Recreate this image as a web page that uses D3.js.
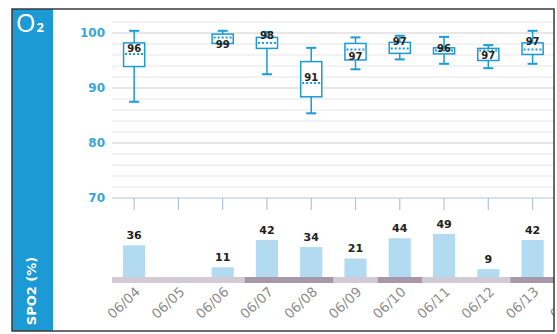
<!DOCTYPE html>
<html>
<head>
<meta charset="utf-8">
<script src="https://cdn.jsdelivr.net/npm/d3@7"></script>
<style>
  html, body { margin: 0; padding: 0; background: #fff; }
  svg { display: block; }
</style>
</head>
<body>
<svg id="chart" width="557" height="334"></svg>
<script>
// ---------- DATA ----------
const categories = ["06/04","06/05","06/06","06/07","06/08","06/09","06/10","06/11","06/12","06/13","06/14"];
const dayType    = ["light","light","light","dark","dark","light","dark","light","light","dark","dark"];
const whiskerHigh = [100.4, null, 100.4, 100.2, 97.3, 99.2, 99.5, 99.3, 97.8, 100.4, null];
const q3Values    = [98.2,  null, 99.8,  99.2,  94.8, 98.1, 98.3, 97.3, 97.2, 98.2,  null];
const medianValues= [96.2,  null, 99.2,  98.2,  90.9, 97.0, 97.2, 96.8, 96.8, 97.0,  null];
const q1Values    = [93.9,  null, 98.1,  97.2,  88.4, 95.1, 96.3, 96.2, 95.0, 96.1,  null];
const whiskerLow  = [87.5,  null, 98.1,  92.5,  85.4, 93.4, 95.2, 94.4, 93.6, 94.4,  null];
const boxLabels   = [96,    null, 99,    98,    91,   97,   97,   96,   97,   97,    null];
const meanValues  = [97.2,  null, 98.0,  99.6,  91.9, 95.8, 98.4, 97.2, 96.0, 98.4,  null];
const countValues = [36,    null, 11,    42,    34,   21,   44,   49,   9,    42,    null];
const yTicks = [70, 80, 90, 100];
const gridValues = [72,74,76,78,80,82,84,86,88,90,92,94,96,98,100,102];

// ---------- LAYOUT ----------
const svg = d3.select("#chart");
const frame = {x: 12, y: 9, w: 542, h: 322};
const blue = "#1b9ad6";

svg.append("defs").append("clipPath").attr("id","clip")
  .append("rect").attr("x", frame.x).attr("y", frame.y).attr("width", frame.w).attr("height", frame.h);

const x = d3.scaleBand().domain(categories).range([112, 599]).paddingInner(0.5).paddingOuter(0.25);
const step = x.step();
const cx = d => x(d) + x.bandwidth()/2;
const y = d3.scaleLinear().domain([70, 102]).range([198, 22]);
const yBar = d3.scaleLinear().domain([0, 50]).range([277, 233]);

const g = svg.append("g").attr("clip-path","url(#clip)");

// sidebar
g.append("rect").attr("x", frame.x).attr("y", frame.y).attr("width", 41).attr("height", frame.h).attr("fill", blue);
const o2 = svg.append("text").attr("x", 16).attr("y", 32).attr("fill","#fff")
  .attr("font-family","'Open Sans', 'DejaVu Sans', sans-serif").attr("font-size", 25);
o2.append("tspan").text("O");
o2.append("tspan").attr("font-size", 13).attr("font-weight","bold").attr("dx", 1).text("2");
svg.append("text").attr("transform","translate(36,291) rotate(-90)")
  .attr("text-anchor","middle").attr("fill","#fff")
  .attr("font-family","'DejaVu Sans', sans-serif").attr("font-weight","bold").attr("font-size", 13)
  .text("SPO2 (%)");

// gridlines
g.selectAll("line.grid").data(gridValues).enter().append("line")
  .attr("x1", 112).attr("x2", 600)
  .attr("y1", d => y(d)).attr("y2", d => y(d))
  .attr("stroke", d => d % 10 === 0 ? "#cfcfcf" : "#e6e6e6").attr("stroke-width", 1);

// y axis labels
svg.selectAll("text.ytick").data(yTicks).enter().append("text")
  .attr("x", 105).attr("y", d => y(d)).attr("dy","0.35em").attr("text-anchor","end")
  .attr("fill","#3ba3db").attr("font-family","'DejaVu Sans', sans-serif")
  .attr("font-weight","bold").attr("font-size", 12).text(d => d);

// x axis
const xAxis = d3.axisBottom(x).tickSize(12).tickFormat("");
const ax = g.append("g").attr("transform", `translate(0,${y(70)})`).call(xAxis);
ax.select(".domain").attr("stroke","#b3c3d8").attr("d", `M112,0H600`);
ax.selectAll(".tick line").attr("stroke","#b3c3d8").attr("stroke-width", 1.2);

// strip
g.selectAll("rect.strip").data(categories).enter().append("rect")
  .attr("x", d => cx(d) - step/2).attr("width", step + 0.5)
  .attr("y", 277).attr("height", 6)
  .attr("fill", (d,i) => dayType[i] === "dark" ? "#a698a9" : "#d2cad5");

// bars
const barData = categories.map((c,i) => ({c, v: countValues[i]})).filter(d => d.v != null);
g.selectAll("rect.bar").data(barData).enter().append("rect")
  .attr("x", d => x(d.c)).attr("width", x.bandwidth())
  .attr("y", d => yBar(d.v)).attr("height", d => yBar(0) - yBar(d.v))
  .attr("fill", "#b2daf1");
g.selectAll("text.barlab").data(barData).enter().append("text")
  .attr("x", d => cx(d.c)).attr("y", d => yBar(d.v) - 10).attr("dy","0.35em")
  .attr("text-anchor","middle").attr("fill","#222")
  .attr("font-family","'DejaVu Sans', sans-serif").attr("font-weight","bold").attr("font-size", 11)
  .text(d => d.v);

// x tick labels
g.selectAll("text.xlab").data(categories).enter().append("text")
  .attr("transform", d => `translate(${cx(d)+7},${293}) rotate(-43)`)
  .attr("text-anchor","end").attr("fill","#8c8c8c")
  .attr("font-family","'DejaVu Sans', sans-serif").attr("font-size", 13.5)
  .text(d => d);

// boxes
const boxData = categories.map((c,i) => ({c, hi: whiskerHigh[i], q3: q3Values[i], med: medianValues[i],
  q1: q1Values[i], lo: whiskerLow[i], lab: boxLabels[i], mean: meanValues[i]})).filter(d => d.med != null);
const bg = g.selectAll("g.box").data(boxData).enter().append("g");
bg.append("line").attr("x1", d => cx(d.c)).attr("x2", d => cx(d.c))
  .attr("y1", d => y(d.hi)).attr("y2", d => y(d.lo)).attr("stroke", blue).attr("stroke-width", 1.5);
bg.append("line").attr("x1", d => cx(d.c) - 5).attr("x2", d => cx(d.c) + 5)
  .attr("y1", d => y(d.hi)).attr("y2", d => y(d.hi)).attr("stroke", blue).attr("stroke-width", 2);
bg.append("line").attr("x1", d => cx(d.c) - 5).attr("x2", d => cx(d.c) + 5)
  .attr("y1", d => y(d.lo)).attr("y2", d => y(d.lo)).attr("stroke", blue).attr("stroke-width", 2);
bg.append("rect").attr("x", d => x(d.c) + 0.5).attr("width", x.bandwidth() - 1)
  .attr("y", d => y(d.q3)).attr("height", d => y(d.q1) - y(d.q3))
  .attr("fill","#fff").attr("stroke", blue).attr("stroke-width", 1.5);
bg.append("line").attr("x1", d => x(d.c) + 2).attr("x2", d => x(d.c) + x.bandwidth() - 2)
  .attr("y1", d => y(d.med)).attr("y2", d => y(d.med))
  .attr("stroke", blue).attr("stroke-width", 2).attr("stroke-dasharray","2,2");
bg.append("text").attr("x", d => cx(d.c)).attr("y", d => y(d.mean)).attr("dy","0.35em")
  .attr("text-anchor","middle").attr("fill","#222")
  .attr("font-family","'DejaVu Sans', sans-serif").attr("font-weight","bold").attr("font-size", 10)
  .text(d => d.lab);

// frame
svg.append("rect").attr("x", frame.x).attr("y", frame.y).attr("width", frame.w).attr("height", frame.h)
  .attr("fill","none").attr("stroke","#3a3a3a").attr("stroke-width", 1.5);
</script>
</body>
</html>
